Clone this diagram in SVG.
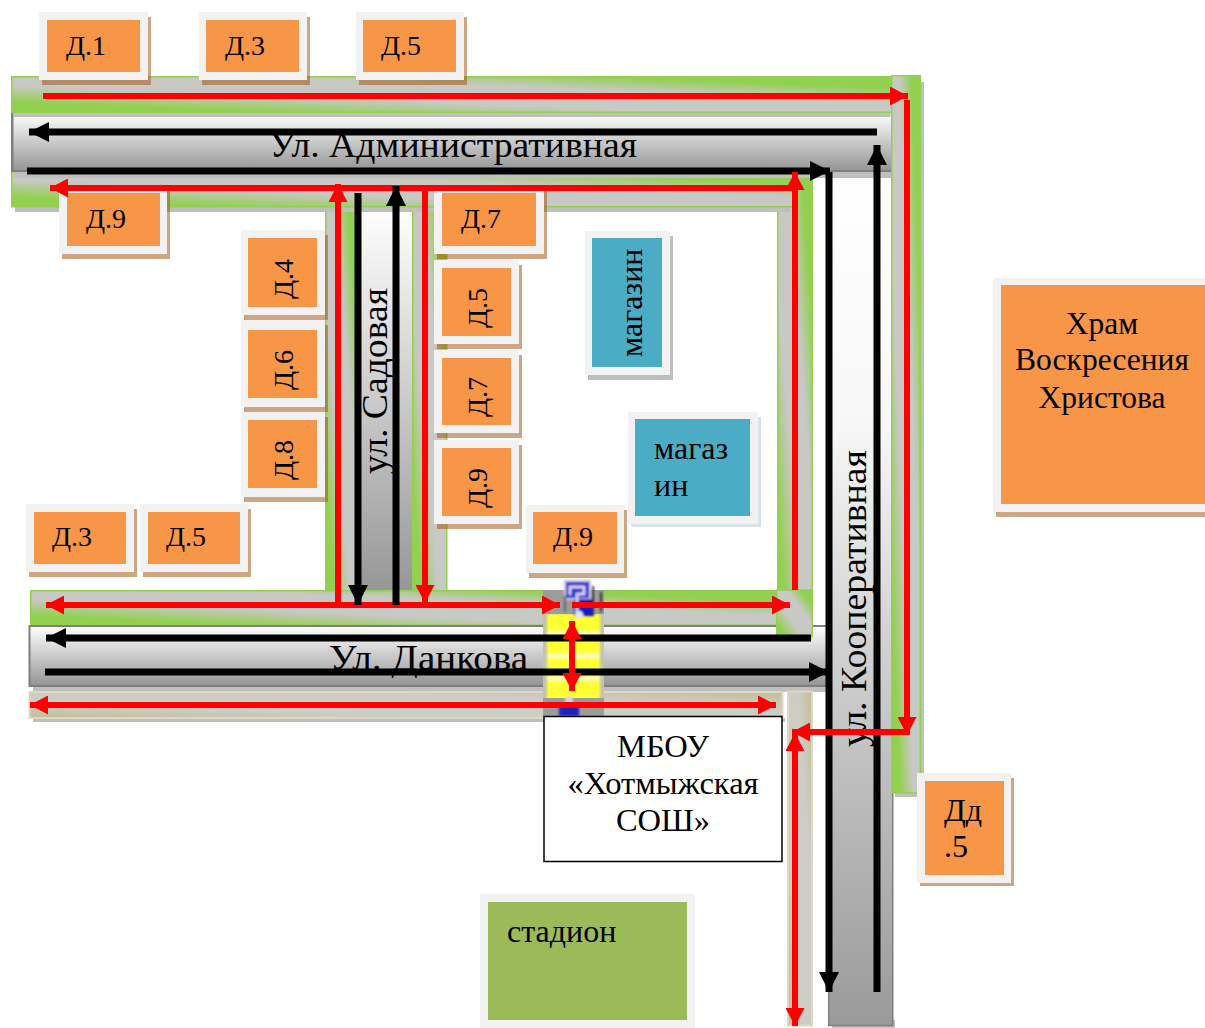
<svg xmlns="http://www.w3.org/2000/svg" width="1205" height="1028" viewBox="0 0 1205 1028">
<style>
text{font-family:"Liberation Serif","Times New Roman",serif;fill:#000}
.t{font-size:28px}.s{font-size:35px}.b{font-size:32.500px}.c{font-size:31.500px}.m{font-size:32px}
.fr{fill:#f2f2f2}.sh{fill:#9f4d09;fill-opacity:.5}.or{fill:#f79646}.bl{fill:#4bacc6}.gr{fill:#9bbb59}
.sd{fill:#bfbfbf}
.g{fill:url(#g);stroke:#92d050;stroke-width:1.500}
.be{fill:url(#be);stroke:#ddd8c2;stroke-width:2}
.r{fill:none;stroke:#f00;stroke-width:6}
.k{fill:none;stroke:#000;stroke-width:7}
.ra{marker-end:url(#rh)}.rb{marker-start:url(#rh);marker-end:url(#rh)}.ka{marker-end:url(#kh)}
</style>
<defs>
<filter id="soft" x="-10%" y="-10%" width="120%" height="120%"><feGaussianBlur stdDeviation="0.900"/></filter>
<marker id="rh" markerUnits="userSpaceOnUse" markerWidth="18" markerHeight="19" refX="18" refY="9.500" orient="auto-start-reverse" viewBox="0 0 18 19"><path d="M0 0L18 9.500L0 19Z" fill="#f00"/></marker>
<marker id="kh" markerUnits="userSpaceOnUse" markerWidth="20" markerHeight="20" refX="20" refY="10" orient="auto" viewBox="0 0 20 20"><path d="M0 0L20 10L0 20Z" fill="#000"/></marker>
<linearGradient id="road" x1="0" y1="0" x2="0" y2="1"><stop offset="0" stop-color="#fff"/><stop offset="1" stop-color="#949494"/></linearGradient>
<linearGradient id="roadV" gradientUnits="userSpaceOnUse" x1="0" y1="171" x2="0" y2="1026"><stop offset="0" stop-color="#fff"/><stop offset=".3" stop-color="#f7f7f7"/><stop offset=".55" stop-color="#d2d2d2"/><stop offset="1" stop-color="#9a9a9a"/></linearGradient>
<linearGradient id="roadS" gradientUnits="userSpaceOnUse" x1="0" y1="207" x2="0" y2="595"><stop offset="0" stop-color="#fff"/><stop offset="1" stop-color="#969696"/></linearGradient>
<linearGradient id="g" x1="1" y1="0" x2="0" y2="1"><stop offset="0" stop-color="#92d050"/><stop offset=".16" stop-color="#92d050"/><stop offset=".36" stop-color="#c8c8c4"/><stop offset=".62" stop-color="#c8c8c4"/><stop offset=".86" stop-color="#92d050"/><stop offset="1" stop-color="#92d050"/></linearGradient>
<linearGradient id="be" x1="1" y1="0" x2="0" y2="1"><stop offset="0" stop-color="#c4bd97"/><stop offset=".3" stop-color="#cdcdc6"/><stop offset=".7" stop-color="#cdcdc6"/><stop offset="1" stop-color="#c4bd97"/></linearGradient>
<pattern id="stripes" patternUnits="userSpaceOnUse" x="0" y="614" width="10" height="22.500"><rect width="10" height="22.500" fill="#ffff33"/><rect y="17" width="10" height="5" fill="#fffbb0"/></pattern>
</defs>

<g id="roads">
<rect x="777.750" y="172.750" width="34.500" height="464" class="g"/>
<rect class="sd" x="781" y="637" width="35" height="5"/>
<rect x="325.750" y="207" width="32" height="388" class="g"/>
<rect x="412.750" y="207" width="34" height="388" class="g"/>
<rect x="358" y="207" width="54" height="385" fill="url(#roadS)"/>
<rect class="sd" x="328" y="591" width="120" height="5"/>
<rect class="sd" x="15" y="207" width="775" height="5"/>
<rect x="11.750" y="171.750" width="781" height="35" class="g"/>
<rect class="sd" x="33" y="686" width="796" height="6"/>
<rect x="30.750" y="590.750" width="746" height="34.500" class="g"/>
<rect x="29.500" y="626" width="798" height="60" fill="url(#road)" stroke="#7f7f7f" stroke-width="2"/>
<rect x="776.750" y="590" width="35.500" height="47" class="g"/>
<rect class="sd" x="33" y="718" width="752" height="4"/>
<rect x="29.500" y="692" width="753" height="26" class="be"/>
<rect x="788" y="691.500" width="24" height="334" class="be"/>
<rect class="sd" x="832" y="1020" width="63" height="8"/>
<rect x="828.750" y="171" width="64" height="854.500" fill="url(#roadV)" stroke="#7f7f7f" stroke-width="1.500"/>
<rect class="sd" x="15" y="171" width="876" height="7"/>
<rect x="11" y="113" width="880" height="58" fill="url(#road)"/>
<rect x="11" y="113" width="2.500" height="58" fill="#7f7f7f"/>
<rect x="13.500" y="113" width="877" height="4" class="sd"/>
<rect x="11" y="170" width="880" height="2" fill="#7f7f7f"/>
<rect x="11.750" y="76.750" width="881" height="35.500" class="g"/>
<rect class="sd" x="895" y="82" width="29" height="715"/>
<rect x="891.750" y="75.750" width="28.500" height="717" class="g"/>
</g>

<g id="crossing">
<rect x="543" y="614" width="61" height="102" fill="#c4c4a8"/>
<rect x="547" y="614" width="53" height="99" fill="url(#stripes)" filter="url(#soft)"/>
<rect x="543" y="590" width="61" height="24" fill="#9c9c9c"/>
<g filter="url(#soft)">
<rect x="565" y="581" width="25" height="18" fill="#2a2ad0" stroke="#c8c8e0" stroke-width="2"/>
<rect x="574" y="599" width="20" height="17" fill="#1818c8"/>
<path d="M570 595V587H584V594H577V612" fill="none" stroke="#d8d8f0" stroke-width="3"/>
<path d="M593 586V614M601 592V612" fill="none" stroke="#333" stroke-width="2"/>
<path d="M565 596V612" fill="none" stroke="#666" stroke-width="2"/>
<circle cx="579" cy="615" r="4" fill="#e4e4f0"/>
</g>
<rect x="543" y="698" width="61" height="18" fill="#9c9c9c"/>
<g filter="url(#soft)">
<rect x="559" y="705" width="20" height="11" fill="#2020c0"/>
<circle cx="569" cy="700" r="4" fill="#d8d8e4"/>
</g>
</g>

<g id="street-labels">
<text class="s" x="269" y="157" textLength="368" lengthAdjust="spacingAndGlyphs">Ул. Административная</text>
<text class="s" x="329" y="670" textLength="199" lengthAdjust="spacingAndGlyphs">Ул. Данкова</text>
<text class="s" transform="translate(387,474) rotate(-90)" textLength="186" lengthAdjust="spacingAndGlyphs">ул. Садовая</text>
<text class="s" transform="translate(866,747) rotate(-90)" textLength="297" lengthAdjust="spacingAndGlyphs">ул. Кооперативная</text>
</g>

<g id="d1"><rect class="sh" x="42" y="17" width="109" height="68"/><rect class="fr" x="39" y="12" width="109" height="68"/><rect class="or" x="47" y="20" width="93" height="52"/><text class="t" x="66" y="55">Д.1</text></g>
<g id="d3"><rect class="sh" x="202" y="17" width="108" height="68"/><rect class="fr" x="199" y="12" width="108" height="68"/><rect class="or" x="206" y="20" width="93" height="52"/><text class="t" x="225" y="55">Д.3</text></g>
<g id="d5"><rect class="sh" x="359" y="17" width="108" height="68"/><rect class="fr" x="356" y="12" width="108" height="68"/><rect class="or" x="363" y="20" width="93" height="52"/><text class="t" x="381" y="55">Д.5</text></g>
<g id="d9a"><rect class="sh" x="62" y="190" width="108" height="69"/><rect class="fr" x="59" y="185" width="108" height="69"/><rect class="or" x="67" y="193" width="93" height="53"/><text class="t" x="86" y="228">Д.9</text></g>
<g id="d4"><rect class="sh" x="244" y="235" width="84" height="85"/><rect class="fr" x="241" y="230" width="84" height="85"/><rect class="or" x="248" y="238" width="69" height="69"/><text class="t" transform="translate(293,299) rotate(-90)">Д.4</text></g>
<g id="d6"><rect class="sh" x="244" y="325" width="84" height="87"/><rect class="fr" x="241" y="320" width="84" height="87"/><rect class="or" x="248" y="330" width="69" height="68"/><text class="t" transform="translate(293,390) rotate(-90)">Д.6</text></g>
<g id="d8"><rect class="sh" x="244" y="417" width="84" height="85"/><rect class="fr" x="241" y="412" width="84" height="85"/><rect class="or" x="248" y="420" width="69" height="68"/><text class="t" transform="translate(293,480) rotate(-90)">Д.8</text></g>
<g id="d7a"><rect class="sh" x="437" y="190" width="110" height="69"/><rect class="fr" x="434" y="185" width="110" height="69"/><rect class="or" x="442" y="193" width="94" height="53"/><text class="t" x="461" y="228">Д.7</text></g>
<g id="d5v"><rect class="sh" x="437" y="265" width="85" height="84"/><rect class="fr" x="434" y="260" width="85" height="84"/><rect class="or" x="442" y="268" width="69" height="68"/><text class="t" transform="translate(487,328) rotate(-90)">Д.5</text></g>
<g id="d7v"><rect class="sh" x="437" y="355" width="85" height="83"/><rect class="fr" x="434" y="350" width="85" height="83"/><rect class="or" x="442" y="358" width="69" height="67"/><text class="t" transform="translate(487,417) rotate(-90)">Д.7</text></g>
<g id="d9v"><rect class="sh" x="437" y="445" width="85" height="84"/><rect class="fr" x="434" y="440" width="85" height="84"/><rect class="or" x="442" y="448" width="69" height="68"/><text class="t" transform="translate(487,508) rotate(-90)">Д.9</text></g>
<g id="d3b"><rect class="sh" x="29" y="509" width="108" height="68"/><rect class="fr" x="26" y="504" width="108" height="68"/><rect class="or" x="34" y="512" width="92" height="52"/><text class="t" x="52" y="546">Д.3</text></g>
<g id="d5b"><rect class="sh" x="143" y="509" width="108" height="68"/><rect class="fr" x="140" y="504" width="108" height="68"/><rect class="or" x="148" y="512" width="92" height="52"/><text class="t" x="166" y="546">Д.5</text></g>
<g id="d9b"><rect class="sh" x="529" y="510" width="98" height="68"/><rect class="fr" x="526" y="505" width="98" height="68"/><rect class="or" x="533" y="512" width="84" height="52"/><text class="t" x="553" y="546">Д.9</text></g>
<g id="shop1"><rect x="588" y="236" width="85" height="144" fill="#bfbfbf"/><rect class="fr" x="585" y="231" width="85" height="144"/><rect class="bl" x="592" y="238" width="70" height="129"/><text class="m" transform="translate(642,357) rotate(-90)">магазин</text></g>
<g id="shop2"><rect x="631" y="417" width="130" height="110" fill="#d8e4e8"/><rect class="fr" x="628" y="412" width="130" height="112"/><rect class="bl" x="635" y="419" width="115" height="97"/><text class="m" x="654" y="459">магаз</text><text class="m" x="654" y="496">ин</text></g>
<g id="church"><rect class="sh" x="996" y="283" width="209" height="234"/><rect class="fr" x="993" y="278" width="212" height="234"/><rect class="or" x="1001" y="285" width="204" height="219"/><text class="c" x="1102" y="334" text-anchor="middle">Храм</text><text class="c" x="1102" y="370" text-anchor="middle">Воскресения</text><text class="c" x="1102" y="408" text-anchor="middle">Христова</text></g>
<g id="dd5"><rect class="sh" x="920" y="778" width="94" height="108"/><rect class="fr" x="917" y="773" width="94" height="110"/><rect class="or" x="925" y="781" width="79" height="94"/><text class="m" x="944" y="821">Дд</text><text class="m" x="944" y="857">.5</text></g>
<g id="stadium"><rect class="fr" x="480" y="894" width="215" height="134"/><rect class="gr" x="488" y="902" width="199" height="118"/><text class="m" x="507" y="942">стадион</text></g>
<g id="school"><rect x="544" y="716.500" width="238" height="145" fill="#fff" stroke="#000" stroke-width="1.500"/><text class="b" x="663" y="757" text-anchor="middle">МБОУ</text><text class="b" x="663" y="794" text-anchor="middle">«Хотмыжская</text><text class="b" x="663" y="831" text-anchor="middle">СОШ»</text></g>

<g id="connectors">
<path class="k ka" d="M877 132H29"/>
<path class="k ka" d="M27 171H830"/>
<path class="k ka" d="M811 638H46"/>
<path class="k ka" d="M45 672H829"/>
<path class="k ka" d="M829 172V992"/>
<path class="k ka" d="M877 992V145"/>
<path class="r ra" d="M43 96H908"/>
<path class="r ra" d="M907 100V735"/>
<path class="r ra" d="M907 732H792"/>
<path class="r ra" d="M795 590V172"/>
<path class="r ra" d="M795 188H50"/>
<path class="r ra" d="M338 604V184"/>
<path class="r ra" d="M425 188V603"/>
<path class="r rb" d="M46 605H560"/>
<path class="r ra" d="M572 605H790"/>
<path class="r rb" d="M572 621V691"/>
<path class="r rb" d="M30 705H776"/>
<path class="r rb" d="M795 733V1026"/>
<path class="k ka" d="M358 193V605"/>
<path class="k ka" d="M396 605V186"/>
</g>
</svg>
